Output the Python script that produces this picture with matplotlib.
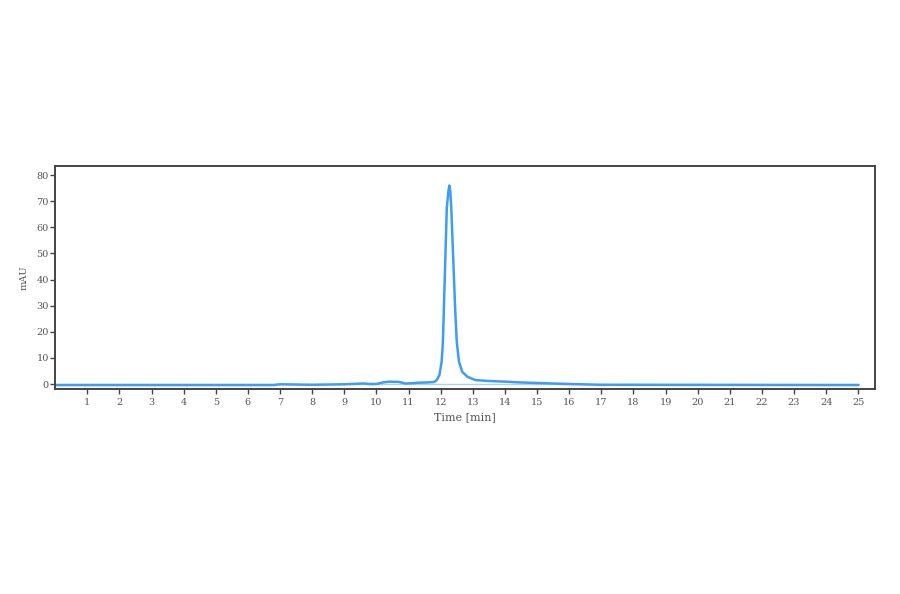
import matplotlib
matplotlib.use('Agg')
import matplotlib.pyplot as plt

# Chromatogram trace
time_min = [0, 6.8, 7.0, 7.5, 8.0, 8.5, 9.0, 9.4, 9.6, 9.8, 10.0, 10.2, 10.4, 10.7,
            10.9, 11.1, 11.3, 11.6, 11.8, 11.88, 11.96, 12.03, 12.07, 12.10, 12.13,
            12.16, 12.19, 12.24, 12.27, 12.30, 12.33, 12.37, 12.41, 12.45, 12.50,
            12.57, 12.67, 12.83, 13.0, 13.09, 13.5, 14.0, 14.5, 15.0, 15.5, 16.0,
            17.0, 25.0]
mau = [-0.4, -0.4, -0.1, -0.2, -0.3, -0.2, -0.1, 0.1, 0.2, 0.0, 0.0, 0.6, 0.9, 0.8,
       0.2, 0.3, 0.5, 0.6, 0.8, 1.5, 3.4, 8.5, 16.2, 29.0, 41.8,
       54.5, 67.3, 73.7, 76.0, 73.7, 67.3, 54.5, 41.8, 29.0, 16.2,
       8.5, 4.7, 2.8, 1.9, 1.5, 1.15, 0.9, 0.6, 0.4, 0.2, 0.0,
       -0.3, -0.4]

x_ticks = list(range(1, 26))
y_ticks = list(range(0, 81, 10))

plt.rcParams['font.family'] = ['DejaVu Serif']

fig = plt.figure(figsize=(9, 5.94), dpi=100)
ax = fig.add_axes([0.0613, 0.3456, 0.9113, 0.3755])

# integration baseline
ax.plot([0, 25], [0, 0], color='#a9d2f7', linewidth=1.0)
ax.plot(time_min, mau, color='#3d9df5', linewidth=1.8)

ax.set_xlim(0, 25.53)
ax.set_ylim(-1.8, 83.6)
ax.set_xticks(x_ticks)
ax.set_yticks(y_ticks)
ax.tick_params(direction='out', length=3.5, width=1.0, colors='#444444',
               labelsize=7, labelcolor='#555555')
ax.tick_params(axis='x', pad=3)
ax.tick_params(axis='y', pad=1)
for s in ax.spines.values():
    s.set_color('#444444')
    s.set_linewidth(1.4)

ax.set_xlabel('Time [min]', fontsize=8, color='#555555', labelpad=4)
ax.set_ylabel('mAU', fontsize=7, color='#555555', labelpad=6)

fig.savefig('out.png', dpi=100)
